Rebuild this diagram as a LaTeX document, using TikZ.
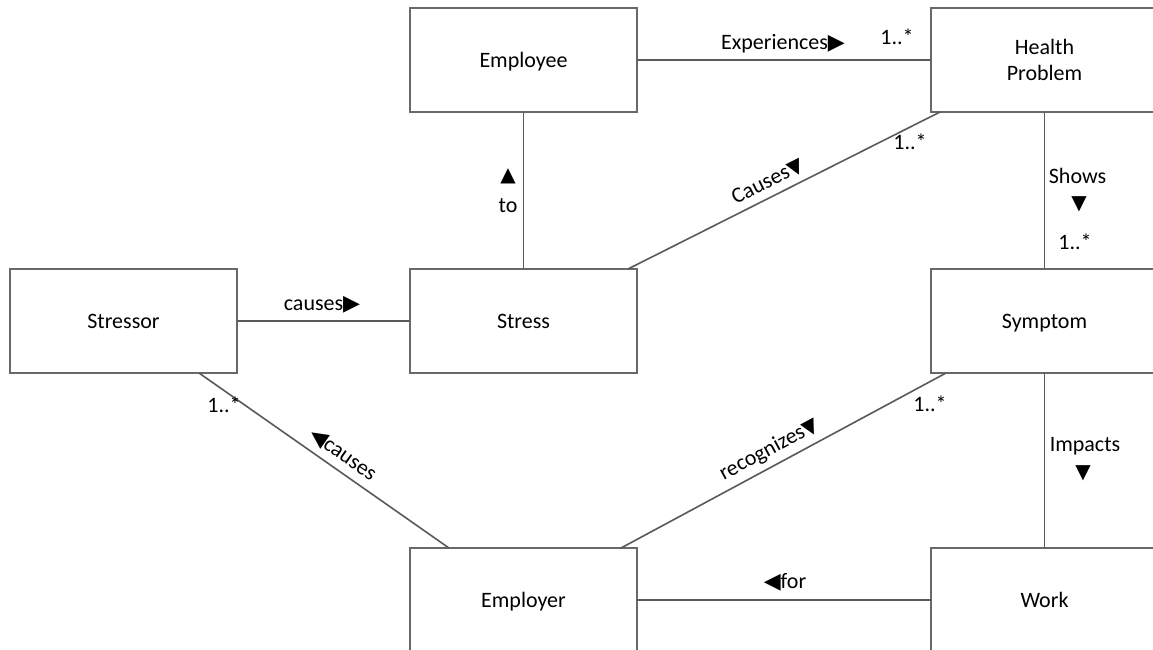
\documentclass[tikz,border=0pt]{standalone}
\usepackage{fontspec}
\setmainfont{Carlito}
\newfontfamily\symfont{DejaVu Sans}
\newcommand{\tri}[1]{{\symfont\fontsize{20}{22}\selectfont #1}}
\newcommand{\htri}[1]{{\symfont\fontsize{22}{24}\selectfont #1}}
\tikzset{
  box/.style={draw=boxgray, line width=2pt, fill=white, minimum width=227pt, minimum height=104pt, inner sep=0pt, outer sep=0pt, align=center, font=\fontsize{22}{26}\selectfont, text depth=0pt},
  conn/.style={draw=linegray, line width=1.6pt},
  lbl/.style={inner sep=0pt, font=\fontsize{22}{26}\selectfont, text=black},
  slab/.style={sloped, above, inner sep=6pt, font=\fontsize{22}{26}\selectfont, text=black}
}
\definecolor{boxgray}{RGB}{105,105,105}
\definecolor{linegray}{RGB}{90,90,90}
\begin{document}
\begin{tikzpicture}[x=1pt,y=-1pt]
\useasboundingbox (0,0) rectangle (1153,649);
\clip (0,0) rectangle (1153,649);
\fill[white] (0,0) rectangle (1153,649);
% boxes
\node[box] (employee) at (523.5,60) {Employee};
\node[box] (health) at (1044.5,60) {Health\\Problem};
\node[box] (stressor) at (123.5,321) {Stressor};
\node[box] (stress) at (523.5,321) {Stress};
\node[box] (symptom) at (1044.5,321) {Symptom};
\node[box] (employer) at (523.5,600) {Employer};
\node[box] (work) at (1044.5,600) {Work};
% connectors
\draw[conn] (employee.east) -- (health.west);
\draw[conn] (stress.north) -- (employee.south);
\draw[conn] ([xshift=-9pt]stress.north east) -- ([xshift=9pt]health.south west)
  node[slab, pos=0.47] (lcauses1) {Causes\tri{▼}};
\draw[conn] (health.south) -- (symptom.north);
\draw[conn] (stressor.east) -- (stress.west);
\draw[conn] ([xshift=-38pt]stressor.south east) -- ([xshift=39pt]employer.north west)
  node[slab, pos=0.54] (lcauses3) {\htri{◀}causes};
\draw[conn] ([xshift=-16pt]employer.north east) -- ([xshift=15pt]symptom.south west)
  node[slab, pos=0.48] (lrecog) {recognizes\tri{▼}};
\draw[conn] (symptom.south) -- (work.north);
\draw[conn] (employer.east) -- (work.west);
% labels
\node[lbl] (lexp) at (783,44) {Experiences\htri{▶}};
\node[lbl] (m1) at (897,37) {1..*};
\node[lbl] (m2) at (910,142) {1..*};
\node[lbl] (ltri) at (508,176) {\tri{▲}};
\node[lbl] (lto) at (508,206) {to};
\node[lbl] (lshows) at (1077.5,176) {Shows};
\node[lbl] (lshowstri) at (1079,204) {\tri{▼}};
\node[lbl] (m3) at (1075,242) {1..*};
\node[lbl] (lcauses2) at (322,305) {causes\htri{▶}};
\node[lbl] (m4) at (224,405) {1..*};
\node[lbl] (m5) at (930,404) {1..*};
\node[lbl] (limp) at (1085,446) {Impacts};
\node[lbl] (limptri) at (1083,473) {\tri{▼}};
\node[lbl] (lfor) at (785,582) {\htri{◀}for};
\end{tikzpicture}
\end{document}
